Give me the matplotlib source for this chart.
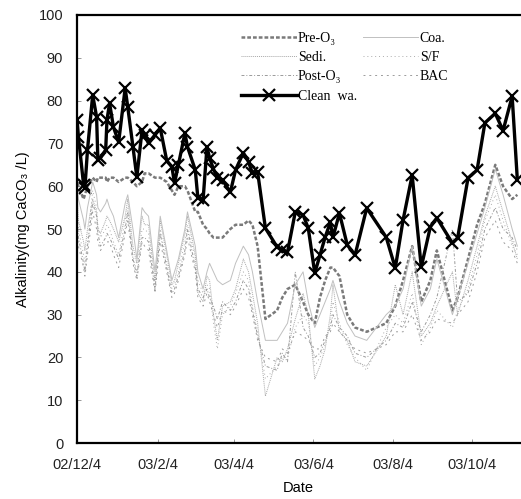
import numpy as np
import matplotlib
matplotlib.use('Agg')
from matplotlib import pyplot as plt

# sampling days, counted from 2002-12-04
days = [0, 1, 5, 6, 8, 12, 15, 16, 18, 22,
        23, 25, 28, 32, 37, 39, 43, 46, 50, 52,
        55, 60, 64, 69, 73, 75, 78, 83, 85, 91,
        93, 97, 100, 102, 105, 108, 112, 118, 122, 128,
        132, 135, 139, 145, 154, 158, 162, 168, 174, 178,
        183, 187, 191, 195, 197, 202, 208, 214, 223, 238,
        245, 251, 258, 265, 272, 277, 289, 293, 301, 308,
        314, 322, 328, 335, 339]

pre_o3 = [62, 60, 57, 58, 60, 62, 61, 62, 62, 62,
          61, 62, 62, 61, 62, 62, 61, 60, 61, 63,
          63, 62, 62, 61, 59, 58, 60, 60, 59, 54,
          54, 51, 50, 49, 48, 48, 48, 50, 51, 51,
          52, 51, 46, 29, 31, 34, 36, 37, 33, 30,
          28, 34, 38, 41, 41, 39, 30, 27, 26, 28,
          32, 38, 46, 33, 38, 45, 31, 34, 43, 51,
          56, 65, 60, 57, 58]

coa = [60, 57, 52, 50, 55, 61, 58, 55, 54, 56,
       57, 55, 53, 48, 56, 58, 50, 43, 55, 54,
       53, 40, 53, 45, 38, 40, 43, 50, 54, 46,
       40, 36, 40, 42, 40, 38, 37, 38, 42, 46,
       44, 40, 33, 24, 24, 26, 28, 37, 40, 33,
       27, 30, 33, 36, 38, 33, 28, 25, 24, 30,
       32, 36, 46, 32, 36, 43, 30, 34, 42, 49,
       55, 64, 58, 50, 46]

sedi = [58, 52, 47, 45, 50, 57, 54, 50, 49, 52,
        53, 52, 50, 47, 53, 57, 46, 42, 53, 51,
        51, 38, 52, 44, 37, 38, 42, 49, 53, 44,
        35, 33, 39, 38, 30, 24, 32, 33, 36, 43,
        40, 35, 28, 11, 20, 19, 22, 29, 35, 30,
        15, 18, 22, 30, 37, 26, 24, 19, 18, 25,
        37, 30, 40, 25, 28, 32, 40, 30, 38, 46,
        53, 60, 54, 47, 43]

sf = [55, 50, 44, 42, 47, 59, 55, 51, 48, 50,
      51, 50, 47, 44, 52, 55, 44, 40, 50, 50,
      49, 37, 50, 42, 36, 37, 40, 47, 51, 43,
      38, 35, 37, 36, 28, 22, 30, 32, 35, 40,
      38, 32, 26, 15, 18, 20, 20, 27, 30, 28,
      18, 20, 23, 28, 33, 28, 23, 20, 17, 27,
      30, 28, 35, 23, 27, 31, 27, 31, 36, 44,
      52, 58, 52, 46, 44]

post_o3 = [52, 48, 42, 40, 46, 56, 53, 49, 46, 48,
           49, 48, 46, 43, 50, 54, 43, 39, 48, 48,
           47, 36, 49, 41, 35, 36, 39, 45, 50, 41,
           36, 34, 36, 34, 32, 29, 33, 31, 33, 38,
           36, 31, 25, 18, 17, 21, 19, 40, 27, 25,
           20, 21, 24, 27, 30, 27, 25, 21, 20, 24,
           28, 27, 33, 26, 30, 34, 50, 33, 35, 42,
           50, 55, 50, 48, 45]

bac = [50, 46, 41, 39, 44, 54, 50, 47, 45, 47,
       47, 47, 44, 41, 49, 52, 42, 38, 47, 46,
       45, 35, 47, 40, 34, 35, 38, 44, 48, 40,
       34, 32, 35, 33, 30, 27, 31, 30, 32, 36,
       34, 30, 24, 20, 19, 22, 21, 26, 25, 24,
       22, 22, 25, 26, 28, 26, 24, 22, 21, 23,
       26, 26, 30, 24, 26, 29, 28, 30, 33, 40,
       48, 52, 47, 45, 42]

clean = [75.5, 71.6, 60.3, 59.6, 68.5, 81.3, 76.2, 66.1, 66.6, 68.5,
         75.5, 79.4, 73.8, 70.3, 82.9, 78.5, 69.2, 62.1, 73.1, 72.0,
         70.0, 72.0, 73.6, 66.0, 64.5, 60.7, 65.0, 72.4, 69.2, 63.8,
         57.2, 56.8, 69.2, 66.6, 64.0, 62.0, 61.4, 58.6, 63.8, 67.8,
         65.7, 63.0, 63.3, 50.2, 45.8, 45.0, 44.6, 54.0, 53.3, 50.2,
         39.7, 43.9, 48.1, 51.6, 48.1, 53.7, 46.3, 43.9, 54.9, 48.1,
         40.9, 52.1, 62.6, 41.1, 50.5, 52.6, 46.7, 47.9, 61.9, 63.8,
         74.8, 77.0, 73.0, 81.0, 61.4]

tick_dates = ['2002-12-04', '2003-02-04', '2003-04-04', '2003-06-04', '2003-08-04', '2003-10-04']
tick_labels = ['02/12/4', '03/2/4', '03/4/4', '03/6/4', '03/8/4', '03/10/4']

start = np.datetime64('2002-12-04')
dates = start + np.array(days).astype('timedelta64[D]')

sans = ['Liberation Sans', 'DejaVu Sans']
serif = ['Liberation Serif', 'DejaVu Serif']

fig = plt.figure(figsize=(5.21, 4.99), dpi=100)
ax = fig.add_axes([0.148, 0.112, 0.850, 0.858])

ax.plot(dates, pre_o3, color='#7a7a7a', lw=1.8, dashes=(1.5, 0.8), label='Pre-O₃')
ax.plot(dates, sedi, color='#a8a8a8', lw=0.7, ls=(0, (1, 1)), label='Sedi.')
ax.plot(dates, post_o3, color='#9a9a9a', lw=0.7, ls=(0, (3, 2, 1, 2)), label='Post-O₃')
ax.plot(dates, clean, color='black', lw=2.4, marker='x', ms=8, mew=1.6, label='Clean  wa.')
ax.plot(dates, coa, color='#c0c0c0', lw=0.7, ls='-', label='Coa.')
ax.plot(dates, sf, color='#ababab', lw=0.7, ls=(0, (1, 3)), label='S/F')
ax.plot(dates, bac, color='#9c9c9c', lw=0.7, ls=(0, (2, 4)), label='BAC')

ax.set_ylim(0, 100)
ax.set_yticks(range(0, 101, 10))
ax.set_xlim(start, start + np.timedelta64(341, 'D'))
ax.set_xticks([np.datetime64(d) for d in tick_dates])
ax.set_xticklabels(tick_labels)

for lab in ax.get_xticklabels() + ax.get_yticklabels():
    lab.set_family(sans)
    lab.set_fontsize(10.5)
    lab.set_color('#222222')

ax.tick_params(direction='in', length=3, width=0.6, color='#888888')
ax.tick_params(axis='x', pad=11)
ax.tick_params(axis='y', pad=10)

for side in ['left', 'bottom', 'top']:
    ax.spines[side].set_linewidth(1.6)
    ax.spines[side].set_color('black')
ax.spines['right'].set_visible(False)

ax.set_xlabel('Date', family=sans, fontsize=10.5, labelpad=6)
ax.set_ylabel('Alkalinity(mg CaCO₃ /L)', family=sans, fontsize=10.5, labelpad=6)

leg = ax.legend(ncol=2, loc='upper left', bbox_to_anchor=(0.342, 0.99),
                frameon=False, prop={'family': serif, 'size': 10},
                handlelength=4.0, handletextpad=0.1, columnspacing=0.4,
                labelspacing=0.45)

fig.savefig('out.png', dpi=100)
